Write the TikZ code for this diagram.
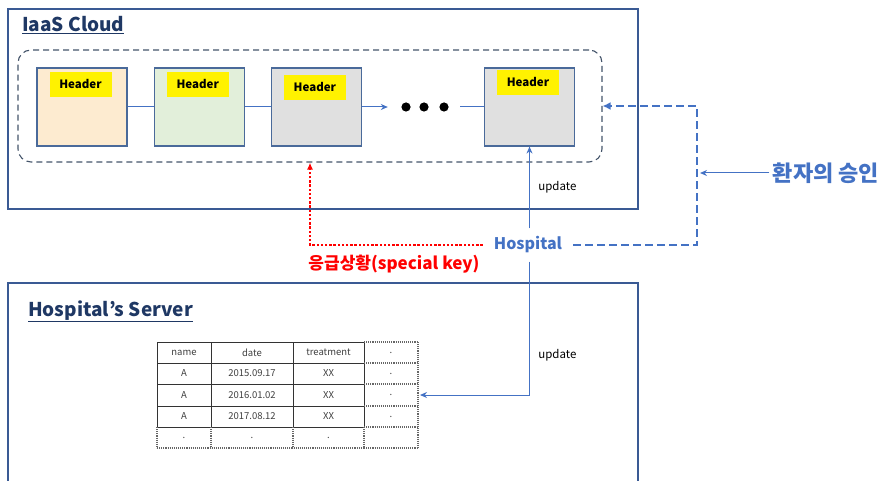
\documentclass[tikz,border=0pt]{standalone}
\usepackage{fontspec}
\setmainfont{Noto Sans CJK KR}
\usetikzlibrary{arrows.meta,positioning}

\definecolor{navy}{HTML}{1F3864}
\definecolor{msblue}{HTML}{4472C4}
\definecolor{frameblue}{HTML}{3A5A94}
\definecolor{boxedge}{HTML}{4A6A9A}
\definecolor{slate}{HTML}{44546A}
\definecolor{peach}{HTML}{FDEBD0}
\definecolor{mint}{HTML}{E2EFDA}
\definecolor{blockgray}{HTML}{E0E0E0}
\definecolor{tabletext}{HTML}{404040}

\newcommand{\fsz}[1]{\fontsize{#1}{#1}\selectfont}

\tikzset{
  frame/.style={draw=frameblue, line width=1.3pt},
  title/.style={anchor=base west, text=navy, font=\bfseries\fsz{19}, inner sep=0pt},
  block/.style={draw=boxedge, line width=1.2pt, minimum width=90pt, minimum height=78pt, inner sep=0pt},
  tag/.style={fill=yellow, font=\bfseries\fsz{11.5}, minimum width=62pt, minimum height=25pt, inner sep=0pt},
  chainbox/.style={draw=slate, line width=1.1pt, dash pattern=on 6pt off 4pt, rounded corners=13pt,
    minimum width=584pt, minimum height=112pt},
  link/.style={draw=msblue, line width=1pt},
  note/.style={text=black, font=\fsz{11.5}},
  emerg/.style={draw=red, line width=2.4pt, dash pattern=on 2.4pt off 1.8pt, -{Latex[length=7pt,width=6pt]}},
  consent/.style={draw=msblue, line width=2.4pt, dash pattern=on 8pt off 4pt, -{Latex[length=8pt,width=8pt]}},
  tblrule/.style={draw=black!80, line width=1pt},
  tbldot/.style={draw=black!60, line width=1.1pt, densely dotted},
  celltext/.style={text=tabletext, font=\fsz{9.5}, inner sep=0pt}
}

\begin{document}
\begin{tikzpicture}[x=1pt, y=-1pt]
  \useasboundingbox (0,0) rectangle (888,481);

  % cloud frame and its block chain
  \draw[frame] (8,9) rectangle (638,209);
  \node[title] (cloud) at (22,32) {\underline{IaaS Cloud}};
  \node[chainbox] (chain) at (310,106) {};

  \node[block, fill=peach] (h1) at (82,107) {};
  \node[block, fill=mint, right=26pt of h1] (h2) {};
  \node[block, fill=blockgray, right=26pt of h2] (h3) {};
  \node[minimum width=72pt, minimum height=10pt, inner sep=0pt] (dots) at (424,107) {};
  \node[block, fill=blockgray] (h5) at (529.5,107) {};
  \foreach \b/\dy in {h1/4, h2/4, h3/7, h5/2}
    \node[tag, below=\dy pt of \b.north, xshift=-1.5pt] (tag-\b) {Header};
  \foreach \dx in {-18,0,20}
    \fill ([xshift=\dx pt]dots.center) circle (4.6pt);

  \draw[link] (h1) -- (h2);
  \draw[link] (h2) -- (h3);
  \draw[link, -{Stealth[length=7pt,width=6pt]}] (h3) -- (dots.west);
  \draw[link] (dots.east) -- (h5);

  % hospital and its links
  \node[text=msblue, font=\bfseries\fsz{16}, inner xsep=11pt, inner ysep=8pt] (hosp) at (528,245) {Hospital};
  \node[text=red, font=\bfseries\fsz{17}] (emg) at (394,264) {응급상황(special key)};
  \node[text=msblue, font=\bfseries\fsz{22}] (ok) at (826,173) {환자의 승인};
  \coordinate (turn) at (697,245);
  \coordinate (tblr) at (418,395);

  \draw[link, -{Stealth[length=7pt,width=6pt]}] (hosp.north -| h5.south) -- (h5.south)
    node[midway, right=5pt, note] (upd1) {update};
  \draw[emerg] (hosp.west) -| (chain.south);
  \draw[consent] (hosp.east) -- (turn) |- (chain.east);
  \draw[link, -{Stealth[length=7pt,width=6pt]}, shorten >=3pt] (ok.west) -- (ok.west -| turn);

  % hospital server frame with the record table
  \draw[frame] (8,481) |- (638,283) -- (638,481);
  \node[title] (server) at (28,316) {\underline{Hospital’s Server}};

  \foreach \x in {157,211,293,364}
    \draw[tblrule] (\x,342) -- (\x,427);
  \foreach \y in {342,363,384,406,427}
    \draw[tblrule] (157,\y) -- (364,\y);
  \foreach \y in {342,363,384,406,427,448}
    \draw[tbldot] (364,\y) -- (418,\y);
  \foreach \x in {157,211,293,364}
    \draw[tbldot] (\x,427) -- (\x,448);
  \draw[tbldot] (157,448) -- (364,448);
  \draw[tbldot] (418,342) -- (418,448);

  \foreach \y/\a/\b/\c/\d [count=\r] in {352.5/name/date/treatment/.,
      373.5/A/2015.09.17/XX/., 395/A/2016.01.02/XX/., 416.5/A/2017.08.12/XX/.,
      437.5/./././{}} {
    \node[celltext] (c\r-1) at (184,\y) {\a};
    \node[celltext] (c\r-2) at (252,\y) {\b};
    \node[celltext] (c\r-3) at (328.5,\y) {\c};
    \node[celltext] (c\r-4) at (391,\y) {\d};
  }

  \draw[link, -{Stealth[length=7pt,width=6pt]}, shorten >=2pt] (hosp.south -| h5.south) |- (tblr)
    node[pos=0.35, right=5pt, note] (upd2) {update};
\end{tikzpicture}
\end{document}
